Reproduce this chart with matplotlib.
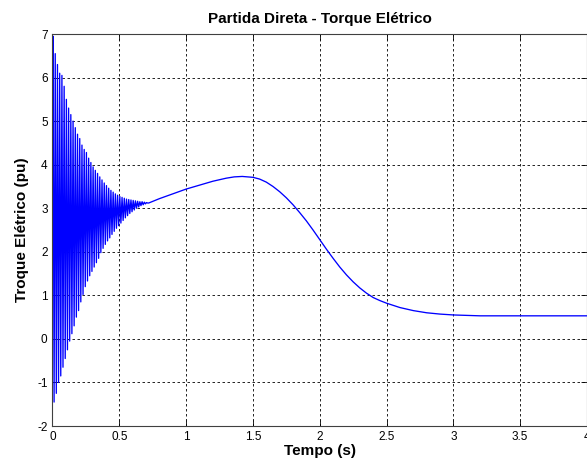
import numpy as np
import matplotlib
matplotlib.use('Agg')
import matplotlib.pyplot as plt

plt.rcParams['font.family'] = ['Liberation Sans', 'DejaVu Sans']
plt.rcParams['axes.unicode_minus'] = False

# picos do transitorio (um por ciclo de 60 Hz)
picos_sup = [6.95, 6.55, 6.30, 6.10, 6.05, 5.80, 5.50, 5.30, 5.15, 5.00,
             4.85, 4.70, 4.60, 4.45, 4.35, 4.28, 4.15, 4.05, 3.95, 3.87,
             3.80, 3.72, 3.65, 3.58, 3.52, 3.46, 3.41, 3.37, 3.33, 3.30,
             3.27, 3.25, 3.23, 3.21, 3.20, 3.19, 3.18, 3.17, 3.16, 3.15,
             3.15, 3.14, 3.13]
picos_inf = [-1.45, -1.25, -1.00, -0.85, -0.65, -0.45, -0.25, -0.05, 0.12, 0.30,
             0.50, 0.65, 0.85, 1.02, 1.20, 1.33, 1.45, 1.55, 1.65, 1.75,
             1.85, 1.98, 2.08, 2.17, 2.25, 2.32, 2.40, 2.47, 2.54, 2.60,
             2.66, 2.72, 2.78, 2.83, 2.88, 2.92, 2.96, 3.00, 3.03, 3.06,
             3.08, 3.10, 3.12]
freq = 60.0
torque_inicial = 4.4

# parte suave depois do transitorio
t_suave = [0.72, 0.8, 0.9, 1.0, 1.1, 1.2, 1.3, 1.36, 1.42, 1.5, 1.55, 1.6,
           1.65, 1.7, 1.75, 1.8, 1.85, 1.9, 1.95, 2.0, 2.05, 2.1, 2.15, 2.2,
           2.25, 2.3, 2.35, 2.4, 2.45, 2.5, 2.6, 2.7, 2.8, 2.9, 3.0, 3.1,
           3.2, 4.0]
te_suave = [3.12, 3.22, 3.33, 3.44, 3.53, 3.62, 3.69, 3.72, 3.73, 3.71, 3.67, 3.60,
            3.50, 3.38, 3.24, 3.08, 2.90, 2.71, 2.50, 2.28, 2.06, 1.85, 1.65, 1.47,
            1.31, 1.17, 1.05, 0.95, 0.88, 0.82, 0.72, 0.65, 0.60, 0.57, 0.55, 0.54,
            0.53, 0.53]

# monta a serie: alterna pico superior / inferior a cada ciclo
t = [0.0]
te = [torque_inicial]
for k in range(len(picos_sup)):
    t.append(k / freq + 0.004)
    te.append(picos_sup[k])
    t.append(k / freq + 0.012)
    te.append(picos_inf[k])
t += t_suave
te += te_suave

fig = plt.figure(figsize=(5.87, 4.68), dpi=100, facecolor='white')
ax = fig.add_axes([0.0894, 0.0897, 0.9106, 0.8376])
ax.plot(t, te, color='#0000ff', lw=0.95)

ax.set_xlim(0, 4)
ax.set_ylim(-2, 7)
ax.set_xticks(np.arange(0, 4.01, 0.5))
ax.set_xticklabels(['0', '0.5', '1', '1.5', '2', '2.5', '3', '3.5', '4'])
ax.set_yticks(range(-2, 8))
ax.grid(True, color='black', linestyle=(0, (3, 3)), lw=0.6)
ax.tick_params(direction='in', top=True, right=True, labelsize=8.5, length=4, width=0.6)
for s in ax.spines.values():
    s.set_linewidth(0.8)
    s.set_color('#404040')

ax.set_title('Partida Direta - Torque Elétrico', fontsize=11, fontweight='bold', pad=8)
ax.set_xlabel('Tempo (s)', fontsize=11, fontweight='bold', labelpad=1)
ax.set_ylabel('Troque Elétrico (pu)', fontsize=11, fontweight='bold', labelpad=6)

fig.savefig('out.png', dpi=100)
